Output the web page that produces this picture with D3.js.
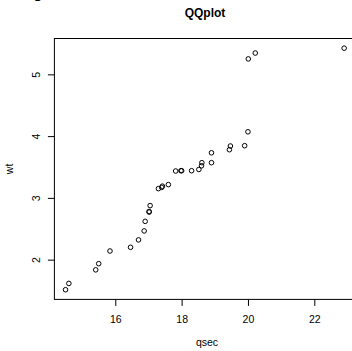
<!DOCTYPE html>
<html>
<head>
<meta charset="utf-8">
<title>QQplot</title>
<script src="https://cdn.jsdelivr.net/npm/d3@7"></script>
<style>
  body { margin: 0; background: #fff; }
  text { font-family: "Liberation Sans", Arial, sans-serif; fill: #000; }
</style>
</head>
<body>
<svg width="352" height="351"></svg>
<script>
// sorted quantiles
var qsec = [14.50, 14.60, 15.41, 15.50, 15.84, 16.46, 16.70, 16.87, 16.90, 17.02, 17.02,
            17.05, 17.30, 17.40, 17.42, 17.60, 17.82, 17.98, 18.00, 18.30, 18.52, 18.60,
            18.61, 18.90, 18.90, 19.44, 19.47, 19.90, 20.00, 20.01, 20.22, 22.90];
var wt = [1.513, 1.615, 1.835, 1.935, 2.140, 2.200, 2.320, 2.465, 2.620, 2.770, 2.780,
          2.875, 3.150, 3.170, 3.190, 3.215, 3.435, 3.440, 3.440, 3.440, 3.460, 3.520,
          3.570, 3.570, 3.730, 3.780, 3.840, 3.845, 4.070, 5.250, 5.345, 5.424];
var xTicks = [16, 18, 20, 22];
var yTicks = [2, 3, 4, 5];

var svg = d3.select("svg"),
    margin = {top: 38.5, right: -3.3, bottom: 51.6, left: 54.4},
    width = +svg.attr("width") - margin.left - margin.right,
    height = +svg.attr("height") - margin.top - margin.bottom;

// R style: pad data range by 4% on both sides
function pad(ext) {
  var d = (ext[1] - ext[0]) * 0.04;
  return [ext[0] - d, ext[1] + d];
}

var x = d3.scaleLinear().domain(pad(d3.extent(qsec))).range([margin.left, margin.left + width]);
var y = d3.scaleLinear().domain(pad(d3.extent(wt))).range([margin.top + height, margin.top]);

// stray bit of text cut off above the panel (as in the original crop)
svg.append("text").attr("x", 33).attr("y", -2.5).style("font-size", "17px").text("g");

// box
svg.append("rect")
    .attr("x", margin.left).attr("y", margin.top)
    .attr("width", width).attr("height", height)
    .attr("fill", "none").attr("stroke", "#000").attr("stroke-width", 1);

// x axis
var xa = svg.append("g")
    .attr("transform", "translate(0," + (margin.top + height) + ")")
    .call(d3.axisBottom(x).tickValues(xTicks).tickFormat(d3.format("d"))
      .tickSize(6.5).tickPadding(10).tickSizeOuter(0));
xa.select(".domain").remove();
xa.selectAll("line").attr("stroke", "#000");
xa.selectAll("text").style("font-size", "10.5px");

// y axis with vertical labels
var ya = svg.append("g")
    .attr("transform", "translate(" + margin.left + ",0)")
    .call(d3.axisLeft(y).tickValues(yTicks).tickFormat(d3.format("d"))
      .tickSize(6.5).tickSizeOuter(0));
ya.select(".domain").remove();
ya.selectAll("line").attr("stroke", "#000");
ya.selectAll("text")
    .attr("x", null).attr("dy", null)
    .attr("text-anchor", "middle")
    .attr("transform", "translate(-14,0) rotate(-90)")
    .style("font-size", "10.5px");

// points
svg.append("g").selectAll("circle")
    .data(qsec)
    .enter().append("circle")
      .attr("cx", function(d) { return x(d); })
      .attr("cy", function(d, i) { return y(wt[i]); })
      .attr("r", 2.3)
      .attr("fill", "none")
      .attr("stroke", "#000")
      .attr("stroke-width", 1);

// titles
svg.append("text")
    .attr("x", 205).attr("y", 16.5)
    .attr("text-anchor", "middle")
    .style("font-size", "12px").style("font-weight", "bold")
    .text("QQplot");

svg.append("text")
    .attr("x", 207).attr("y", 346)
    .attr("text-anchor", "middle")
    .style("font-size", "10.5px")
    .text("qsec");

svg.append("text")
    .attr("transform", "translate(13," + (margin.top + height / 2) + ") rotate(-90)")
    .attr("text-anchor", "middle")
    .style("font-size", "10.5px")
    .text("wt");
</script>
</body>
</html>
